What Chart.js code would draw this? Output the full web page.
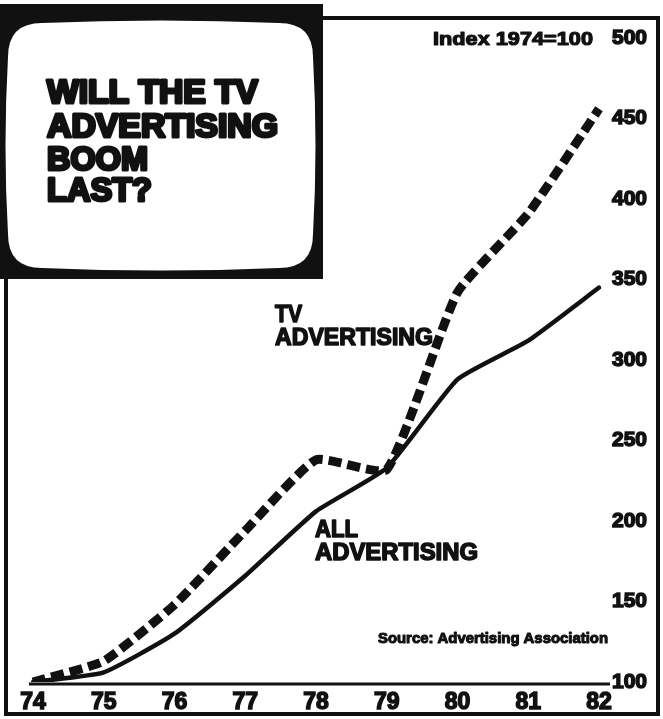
<!DOCTYPE html>
<html>
<head>
<meta charset="utf-8">
<script src="https://cdn.jsdelivr.net/npm/chart.js@4/dist/chart.umd.min.js"></script>
<style>
  html, body { margin: 0; padding: 0; background: #fff; }
  #wrap { width: 663px; height: 719px; position: relative; }
</style>
</head>
<body>
<div id="wrap"><canvas id="tvChart" width="663" height="719"></canvas></div>
<script>
// Index 1974 = 100
const years = ['74', '75', '76', '77', '78', '79', '80', '81', '82'];
const tvAdvertising = [100, 113, 148, 194, 238, 232, 342, 391, 456];
const allAdvertising = [100, 106, 130, 166, 206, 233, 288, 312, 345];
const yTicks = [100, 150, 200, 250, 300, 350, 400, 450, 500];

const INK = '#111';
const FONT = '"Liberation Sans", Arial, Helvetica, sans-serif';

// draw text squeezed/stretched to the width it has in the print
function fitText(ctx, text, x, baseline, width, size, heavy) {
    ctx.save();
    ctx.font = `bold ${size}px ${FONT}`;
    const w = ctx.measureText(text).width;
    ctx.translate(x, baseline);
    ctx.scale(width / w, 1);
    ctx.fillStyle = INK;
    ctx.textAlign = 'left';
    ctx.textBaseline = 'alphabetic';
    if (heavy) {
        ctx.strokeStyle = INK;
        ctx.lineWidth = heavy;
        ctx.lineJoin = 'round';
        ctx.strokeText(text, 0, 0);
    }
    ctx.fillText(text, 0, 0);
    ctx.restore();
}

function tvScreen(ctx) {
    // black set with a white rounded screen
    ctx.fillStyle = INK;
    ctx.fillRect(0, 4, 323, 275);
    const l = 8, t = 23, r = 313, b = 268, rad = 34, bulge = 5;
    ctx.beginPath();
    ctx.moveTo(l + rad, t);
    ctx.quadraticCurveTo((l + r) / 2, t - bulge, r - rad, t);
    ctx.quadraticCurveTo(r, t, r, t + rad);
    ctx.quadraticCurveTo(r + bulge, (t + b) / 2, r, b - rad);
    ctx.quadraticCurveTo(r, b, r - rad, b);
    ctx.quadraticCurveTo((l + r) / 2, b + bulge, l + rad, b);
    ctx.quadraticCurveTo(l, b, l, b - rad);
    ctx.quadraticCurveTo(l - bulge, (t + b) / 2, l, t + rad);
    ctx.quadraticCurveTo(l, t, l + rad, t);
    ctx.closePath();
    ctx.fillStyle = '#fff';
    ctx.fill();
}

const decorPlugin = {
    id: 'decor',
    beforeDraw(chart) {
        const ctx = chart.ctx;
        ctx.save();
        ctx.fillStyle = '#fff';
        ctx.fillRect(0, 0, chart.width, chart.height);
        ctx.restore();
    },
    beforeDatasetsDraw(chart) {
        // the 100 baseline runs a little past the plot towards its label
        const ctx = chart.ctx;
        const { left, right } = chart.chartArea;
        const y0 = chart.scales.y.getPixelForValue(100);
        ctx.save();
        ctx.strokeStyle = INK;
        ctx.lineWidth = 3;
        ctx.beginPath();
        ctx.moveTo(left - 4, y0 + 2);
        ctx.lineTo(right + 11, y0 + 2);
        ctx.stroke();
        ctx.restore();
    },
    afterDraw(chart) {
        const ctx = chart.ctx;
        ctx.save();

        // outer frame
        ctx.strokeStyle = INK;
        ctx.lineWidth = 4;
        ctx.beginPath();
        ctx.moveTo(323, 18);
        ctx.lineTo(658, 18);
        ctx.lineTo(658, 714);
        ctx.lineTo(6, 714);
        ctx.lineTo(6, 279);
        ctx.stroke();

        tvScreen(ctx);

        fitText(ctx, 'WILL THE TV', 47, 103, 211, 33, 3.2);
        fitText(ctx, 'ADVERTISING', 47, 137, 231, 33, 3.2);
        fitText(ctx, 'BOOM', 47, 170, 101, 33, 3.2);
        fitText(ctx, 'LAST?', 47, 201, 105, 33, 3.2);

        fitText(ctx, 'Index 1974=100', 433, 45, 160, 19, 1.2);

        fitText(ctx, 'TV', 275, 322, 27, 24, 1.6);
        fitText(ctx, 'ADVERTISING', 275, 345, 158, 24, 1.6);
        fitText(ctx, 'ALL', 315, 537, 43, 24, 1.6);
        fitText(ctx, 'ADVERTISING', 315, 560, 163, 24, 1.6);

        fitText(ctx, 'Source: Advertising Association', 378, 643, 230, 15, 1.1);

        ctx.restore();
    }
};

const ctx = document.getElementById('tvChart').getContext('2d');
new Chart(ctx, {
    type: 'line',
    data: {
        labels: years,
        datasets: [
            {
                label: 'TV advertising',
                data: tvAdvertising,
                borderColor: INK,
                borderWidth: 9,
                borderDash: [13, 6],
                borderCapStyle: 'butt',
                borderJoinStyle: 'round',
                pointRadius: 0,
                tension: 0.15,
                fill: false
            },
            {
                label: 'All advertising',
                data: allAdvertising,
                borderColor: INK,
                borderWidth: 4.5,
                borderCapStyle: 'round',
                borderJoinStyle: 'round',
                pointRadius: 0,
                tension: 0.15,
                fill: false
            }
        ]
    },
    options: {
        responsive: false,
        animation: false,
        devicePixelRatio: 1,
        layout: { padding: { left: 33, top: 38, right: 0, bottom: 0 } },
        plugins: {
            legend: { display: false },
            title: { display: false },
            tooltip: { enabled: false }
        },
        scales: {
            x: {
                type: 'category',
                offset: false,
                grid: { display: false, drawTicks: false },
                border: { display: false },
                ticks: {
                    color: INK,
                    padding: 7,
                    maxRotation: 0,
                    autoSkip: false,
                    textStrokeColor: INK,
                    textStrokeWidth: 1.5,
                    font: { family: FONT, size: 23, weight: 'bold' }
                },
                afterFit(scale) { scale.height = 37; }
            },
            y: {
                position: 'right',
                min: 100,
                max: 500,
                afterBuildTicks(scale) {
                    scale.ticks = yTicks.map(v => ({ value: v }));
                },
                grid: { display: false, drawTicks: false },
                border: { display: false },
                ticks: {
                    color: INK,
                    padding: 13,
                    textStrokeColor: INK,
                    textStrokeWidth: 1.5,
                    font: { family: FONT, size: 21, weight: 'bold' }
                },
                afterFit(scale) { scale.width = 64; }
            }
        }
    },
    plugins: [decorPlugin]
});
</script>
</body>
</html>
